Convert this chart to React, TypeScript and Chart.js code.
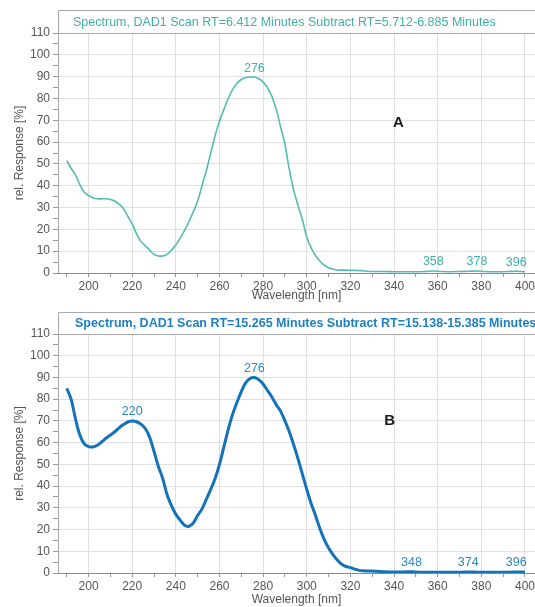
import React, { useEffect, useRef } from 'react';
import { Chart, registerables } from 'chart.js';

Chart.register(...registerables);

// ---------- Panel A data ----------
const wavelengthsA = [
  190, 192, 194, 196, 198, 200, 202, 204, 206, 208,
  210, 212, 214, 216, 218, 220, 222, 224, 226, 228,
  230, 232, 234, 236, 238, 240, 242, 244, 246, 248,
  250, 252, 254, 256, 258, 260, 262, 264, 266, 268,
  270, 272, 274, 276, 278, 280, 282, 284, 286, 288,
  290, 292, 294, 296, 298, 300, 302, 304, 306, 308,
  310, 312, 314, 316, 318, 320, 322, 324, 326, 328,
  330, 335, 340, 345, 350, 354, 358, 362, 366, 370,
  374, 378, 382, 386, 390, 393, 396, 400,
];
const responseA = [
  51.5, 48, 45, 40.5, 37, 35.5, 34.5, 34, 34, 34,
  33.7, 33, 31.5, 29.5, 26, 22.5, 18, 14.5, 12.5, 10.5,
  8.5, 7.8, 7.8, 8.5, 10.5, 12.8, 16, 19.5, 23.5, 28,
  33, 40, 47, 55, 63, 69.5, 75, 80, 84, 87,
  88.7, 89.5, 89.8, 89.8, 89, 87.5, 85, 81, 75, 67,
  59, 47.5, 38, 31, 24.5, 16.5, 11.5, 8, 5.5, 3.6,
  2.4, 1.7, 1.4, 1.3, 1.3, 1.2, 1.2, 1.1, 1.0, 0.8,
  0.7, 0.7, 0.6, 0.6, 0.6, 0.7, 0.9, 0.7, 0.6, 0.7,
  0.8, 0.9, 0.7, 0.6, 0.6, 0.7, 0.8, 0.6,
];
const peaksA = [276, 358, 378, 396];
const titleA = 'Spectrum, DAD1 Scan RT=6.412 Minutes Subtract RT=5.712-6.885 Minutes';

// ---------- Panel B data ----------
const wavelengthsB = [
  190, 192, 194, 196, 198, 200, 202, 204, 206, 208,
  210, 212, 214, 216, 218, 220, 222, 224, 226, 228,
  230, 232, 234, 236, 238, 240, 242, 244, 246, 248,
  250, 252, 254, 256, 258, 260, 262, 264, 266, 268,
  270, 272, 274, 276, 278, 280, 282, 284, 286, 288,
  290, 292, 294, 296, 298, 300, 302, 304, 306, 308,
  310, 312, 314, 316, 318, 320, 322, 324, 326, 328,
  330, 332, 336, 340, 344, 348, 352, 356, 360, 364,
  368, 371, 374, 378, 382, 386, 390, 393, 396, 400,
];
const responseB = [
  85, 80, 71, 63.5, 59.5, 58.2, 58, 58.8, 60.3, 62,
  63.5, 65, 66.8, 68.3, 69.5, 70, 69.6, 68.5, 66.5, 62.5,
  56, 49, 43.5, 36, 31, 27, 24.3, 22, 21.5, 23,
  26.5, 29.5, 34, 38.5, 43.5, 50, 58, 66, 73, 78.5,
  83.5, 87.5, 89.5, 90, 89, 87, 84, 81, 77.5, 74.5,
  70, 65, 59, 52.5, 45.5, 38.5, 32, 26.5, 20.5, 15.5,
  11.5, 8.5, 6, 4, 3, 2.5, 1.8, 1.2, 1.0, 0.9,
  0.9, 0.8, 0.6, 0.5, 0.5, 0.6, 0.4, 0.4, 0.4, 0.4,
  0.4, 0.4, 0.5, 0.4, 0.4, 0.4, 0.4, 0.4, 0.5, 0.4,
];
const peaksB = [220, 276, 348, 374, 396];
const titleB = 'Spectrum, DAD1 Scan RT=15.265 Minutes Subtract RT=15.138-15.385 Minutes';

// axis ticks
const xTicks = [190, 200, 210, 220, 230, 240, 250, 260, 270, 280, 290, 300, 310, 320, 330, 340, 350, 360, 370, 380, 390, 400];
const yTicks = [0, 5, 10, 15, 20, 25, 30, 35, 40, 45, 50, 55, 60, 65, 70, 75, 80, 85, 90, 95, 100, 105, 110];

const FONT = '"Liberation Sans", Arial, sans-serif';

const framePlugin = {
  id: 'frame',
  afterDraw(chart: any, _args: any, opts: any) {
    const { ctx, chartArea } = chart;
    const { left, right, top, bottom } = chartArea;
    const xs = chart.scales.x;
    const ys = chart.scales.y;
    ctx.save();
    // frame
    ctx.strokeStyle = '#a8a8a8';
    ctx.lineWidth = 1;
    ctx.beginPath();
    ctx.moveTo(left + 0.5, bottom);
    ctx.lineTo(left + 0.5, opts.frameTop + 0.5);
    ctx.lineTo(right, opts.frameTop + 0.5);
    ctx.moveTo(left, Math.round(top) + 0.5);
    ctx.lineTo(right, Math.round(top) + 0.5);
    ctx.stroke();
    // title
    ctx.fillStyle = opts.titleColor;
    ctx.font = `${opts.titleBold ? 'bold ' : ''}12.5px ${FONT}`;
    ctx.textAlign = 'left';
    ctx.textBaseline = 'middle';
    ctx.fillText(opts.title, opts.titleX, (opts.frameTop + top) / 2 + 1);
    // peak labels
    ctx.fillStyle = opts.labelColor;
    ctx.font = `12.5px ${FONT}`;
    ctx.textAlign = 'center';
    ctx.textBaseline = 'middle';
    const data = chart.data.datasets[0].data;
    opts.peaks.forEach((p: number) => {
      let best = data[0];
      data.forEach((d: any) => {
        if (Math.abs(d.x - p) < Math.abs(best.x - p)) best = d;
      });
      ctx.fillText(String(p), xs.getPixelForValue(p), ys.getPixelForValue(best.y) - 9);
    });
    // panel letter
    ctx.fillStyle = '#1a1a1a';
    ctx.font = `bold 15px ${FONT}`;
    ctx.fillText(opts.letter.text, xs.getPixelForValue(opts.letter.x), ys.getPixelForValue(opts.letter.y));
    ctx.restore();
  },
};

function makeConfig(
  xs: number[],
  ys: number[],
  color: string,
  width: number,
  frame: any,
  padTop: number,
  xAxisHeight: number,
) {
  return {
    type: 'line',
    data: {
      datasets: [
        {
          data: xs.map((x, i) => ({ x, y: ys[i] })),
          borderColor: color,
          borderWidth: width,
          pointRadius: 0,
          tension: 0.35,
          fill: false,
        },
      ],
    },
    plugins: [framePlugin],
    options: {
      animation: false,
      responsive: false,
      maintainAspectRatio: false,
      layout: { padding: { top: padTop, left: 0, right: 0, bottom: 0 } },
      plugins: {
        legend: { display: false },
        tooltip: { enabled: false },
        title: { display: false },
        frame,
      },
      scales: {
        x: {
          type: 'linear',
          min: 186,
          max: 404.6,
          afterBuildTicks: (s: any) => {
            s.ticks = xTicks.map((value) => ({ value }));
          },
          afterFit: (s: any) => {
            s.height = xAxisHeight;
            s.paddingLeft = 0;
            s.paddingRight = 0;
          },
          ticks: {
            autoSkip: false,
            maxRotation: 0,
            padding: 2,
            color: '#555',
            font: { family: FONT, size: 12 },
            callback: (v: number) => (v % 20 === 0 ? String(v) : ''),
          },
          grid: {
            color: (c: any) => (c.tick && c.tick.value % 20 === 0 ? '#e0e0e0' : 'rgba(0,0,0,0)'),
            tickColor: '#999',
            tickLength: 4,
            drawTicks: true,
          },
          border: { display: true, color: '#8a8a8a' },
          title: {
            display: true,
            text: 'Wavelength [nm]',
            color: '#555',
            font: { family: FONT, size: 12 },
            padding: { top: 0, bottom: 0 },
          },
        },
        y: {
          type: 'linear',
          min: 0,
          max: 110,
          afterBuildTicks: (s: any) => {
            s.ticks = yTicks.map((value) => ({ value }));
          },
          afterFit: (s: any) => {
            s.width = 58;
            s.paddingTop = 0;
            s.paddingBottom = 0;
          },
          ticks: {
            autoSkip: false,
            padding: 3,
            color: '#555',
            font: { family: FONT, size: 12 },
            callback: (v: number) => (v % 10 === 0 ? String(v) : ''),
          },
          grid: {
            color: (c: any) =>
              c.tick && c.tick.value % 10 === 0 && c.tick.value !== 110 ? '#e0e0e0' : 'rgba(0,0,0,0)',
            tickColor: '#999',
            tickLength: 5,
            drawTicks: true,
          },
          border: { display: true, color: '#8a8a8a' },
          title: {
            display: true,
            text: 'rel. Response [%]',
            color: '#555',
            font: { family: FONT, size: 12 },
            padding: { top: 12, bottom: 0 },
          },
        },
      },
    },
  };
}

function Panel(props: { top: number; height: number; config: any }) {
  const ref = useRef<HTMLCanvasElement | null>(null);
  useEffect(() => {
    if (!ref.current) return;
    const chart = new Chart(ref.current, props.config);
    return () => chart.destroy();
  }, []);
  return (
    <canvas
      ref={ref}
      width={535}
      height={props.height}
      style={{ position: 'absolute', left: 0, top: props.top, width: 535, height: props.height }}
    />
  );
}

export default function App() {
  const configA = makeConfig(
    wavelengthsA,
    responseA,
    '#52bcb3',
    1.6,
    {
      frameTop: 10,
      title: titleA,
      titleX: 73,
      titleBold: false,
      titleColor: '#3fb0a7',
      labelColor: '#3fb0a7',
      peaks: peaksA,
      letter: { text: 'A', x: 342, y: 69 },
    },
    33,
    30,
  );
  const configB = makeConfig(
    wavelengthsB,
    responseB,
    '#1372b8',
    3,
    {
      frameTop: 9,
      title: titleB,
      titleX: 75,
      titleBold: true,
      titleColor: '#1d80c4',
      labelColor: '#2a88c8',
      peaks: peaksB,
      letter: { text: 'B', x: 338, y: 70 },
    },
    31,
    34,
  );
  return (
    <div style={{ position: 'absolute', left: 0, top: 0, width: 535, height: 607, background: '#fff' }}>
      <Panel top={0} height={303} config={configA} />
      <Panel top={303} height={304} config={configB} />
    </div>
  );
}
